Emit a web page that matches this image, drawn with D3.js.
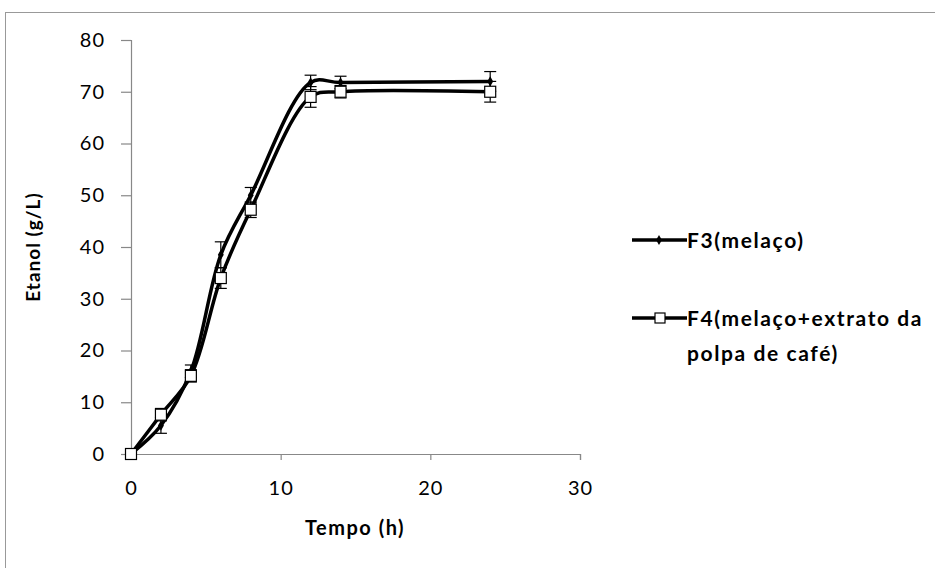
<!DOCTYPE html>
<html><head><meta charset="utf-8">
<script src="https://cdn.jsdelivr.net/npm/d3@7"></script>
<style>body{margin:0;background:#fff}svg{display:block}text{font-family:Lato,"Open Sans",sans-serif}</style>
</head><body>
<script>
const times = [0, 2, 4, 6, 8, 12, 14, 24];
const f3Values = [0, 5.5, 16, 38.5, 50, 71.8, 71.8, 72];
const f3Errors = [0, 1.5, 1.2, 2.5, 1.5, 1.4, 1.2, 1.9];
const f4Values = [0, 7.6, 15.1, 34, 47.2, 69, 70, 70];
const f4Errors = [0, 1.2, 1.2, 2, 1.5, 2, 1.2, 2];
const xTicks = [0, 10, 20, 30];
const yTicks = [0, 10, 20, 30, 40, 50, 60, 70, 80];
const seriesNames = ["F3(melaço)", "F4(melaço+extrato da", "polpa de café)"];

const W = 935, H = 568;
const svg = d3.select("body").append("svg").attr("width", W).attr("height", H);
svg.append("rect").attr("x", 5.5).attr("y", 12.5).attr("width", 940).attr("height", 570)
  .attr("fill", "#fff").attr("stroke", "#999").attr("stroke-width", 1);

const x = d3.scaleLinear().domain([0, 30]).range([131, 580]);
const y = d3.scaleLinear().domain([0, 80]).range([454, 40]);
const axisColor = "#888";

// axes
const gx = svg.append("g").attr("transform", "translate(0,454)")
  .call(d3.axisBottom(x).tickValues(xTicks).tickSize(6).tickPadding(21));
const gy = svg.append("g").attr("transform", "translate(131,0)")
  .call(d3.axisLeft(y).tickValues(yTicks).tickSize(10).tickPadding(16));
[gx, gy].forEach(g => {
  g.select(".domain").attr("stroke", axisColor).attr("stroke-width", 1.2);
  g.selectAll(".tick line").attr("stroke", axisColor).attr("stroke-width", 1.2);
  g.selectAll(".tick text").attr("fill", "#000").style("font-size", "20px")
    .style("letter-spacing", "1px").style("font-family", "Lato, sans-serif");
});
gx.selectAll(".tick text").attr("dy", "0.71em");

svg.append("text").attr("x", 355).attr("y", 535).attr("text-anchor", "middle")
  .style("font-size", "20px").style("font-weight", "bold").style("letter-spacing", "1.5px").text("Tempo (h)");
svg.append("text").attr("transform", "translate(40,247) rotate(-90)").attr("text-anchor", "middle")
  .style("font-size", "19px").style("font-weight", "bold").style("letter-spacing", "1px").text("Etanol (g/L)");

const line = d3.line().x(d => x(d[0])).y(d => y(d[1])).curve(d3.curveCatmullRom.alpha(0.5));
const f3 = times.map((t, i) => [t, f3Values[i], f3Errors[i]]);
const f4 = times.map((t, i) => [t, f4Values[i], f4Errors[i]]);

function drawErrors(data) {
  const g = svg.append("g").attr("stroke", "#000").attr("stroke-width", 1.2);
  data.filter(d => d[2] > 0).forEach(d => {
    const cx = x(d[0]);
    g.append("line").attr("x1", cx).attr("x2", cx).attr("y1", y(d[1] - d[2])).attr("y2", y(d[1] + d[2]));
    g.append("line").attr("x1", cx - 6).attr("x2", cx + 6).attr("y1", y(d[1] + d[2])).attr("y2", y(d[1] + d[2]));
    g.append("line").attr("x1", cx - 6).attr("x2", cx + 6).attr("y1", y(d[1] - d[2])).attr("y2", y(d[1] - d[2]));
  });
}
drawErrors(f3);
drawErrors(f4);

svg.append("path").datum(f3).attr("d", line).attr("fill", "none").attr("stroke", "#000").attr("stroke-width", 3.5);
svg.append("path").datum(f4).attr("d", line).attr("fill", "none").attr("stroke", "#000").attr("stroke-width", 3.5);

const diamond = d3.symbol().type(d3.symbolDiamond).size(30);
svg.append("g").selectAll("path").data(f3).join("path")
  .attr("transform", d => `translate(${x(d[0])},${y(d[1])})`).attr("d", diamond).attr("fill", "#000");
svg.append("g").selectAll("rect").data(f4).join("rect")
  .attr("x", d => x(d[0]) - 5.5).attr("y", d => y(d[1]) - 5.5).attr("width", 11).attr("height", 11)
  .attr("fill", "#fff").attr("stroke", "#000").attr("stroke-width", 1.2);

// legend
const lg = svg.append("g");
const legendStyle = s => s.style("font-size", "21px").style("font-weight", "bold").style("letter-spacing", "1.6px");
lg.append("line").attr("x1", 632).attr("x2", 687).attr("y1", 240).attr("y2", 240).attr("stroke", "#000").attr("stroke-width", 3.5);
lg.append("path").attr("transform", "translate(659,240)").attr("d", diamond).attr("fill", "#000");
lg.append("text").attr("x", 687).attr("y", 248).call(legendStyle).text(seriesNames[0]);
lg.append("line").attr("x1", 632).attr("x2", 687).attr("y1", 318).attr("y2", 318).attr("stroke", "#000").attr("stroke-width", 3.5);
lg.append("rect").attr("x", 655).attr("y", 313).attr("width", 10).attr("height", 10).attr("fill", "#fff").attr("stroke", "#000").attr("stroke-width", 1.2);
lg.append("text").attr("x", 687).attr("y", 326).call(legendStyle).text(seriesNames[1]);
lg.append("text").attr("x", 687).attr("y", 361).call(legendStyle).text(seriesNames[2]);
</script>
</body></html>
